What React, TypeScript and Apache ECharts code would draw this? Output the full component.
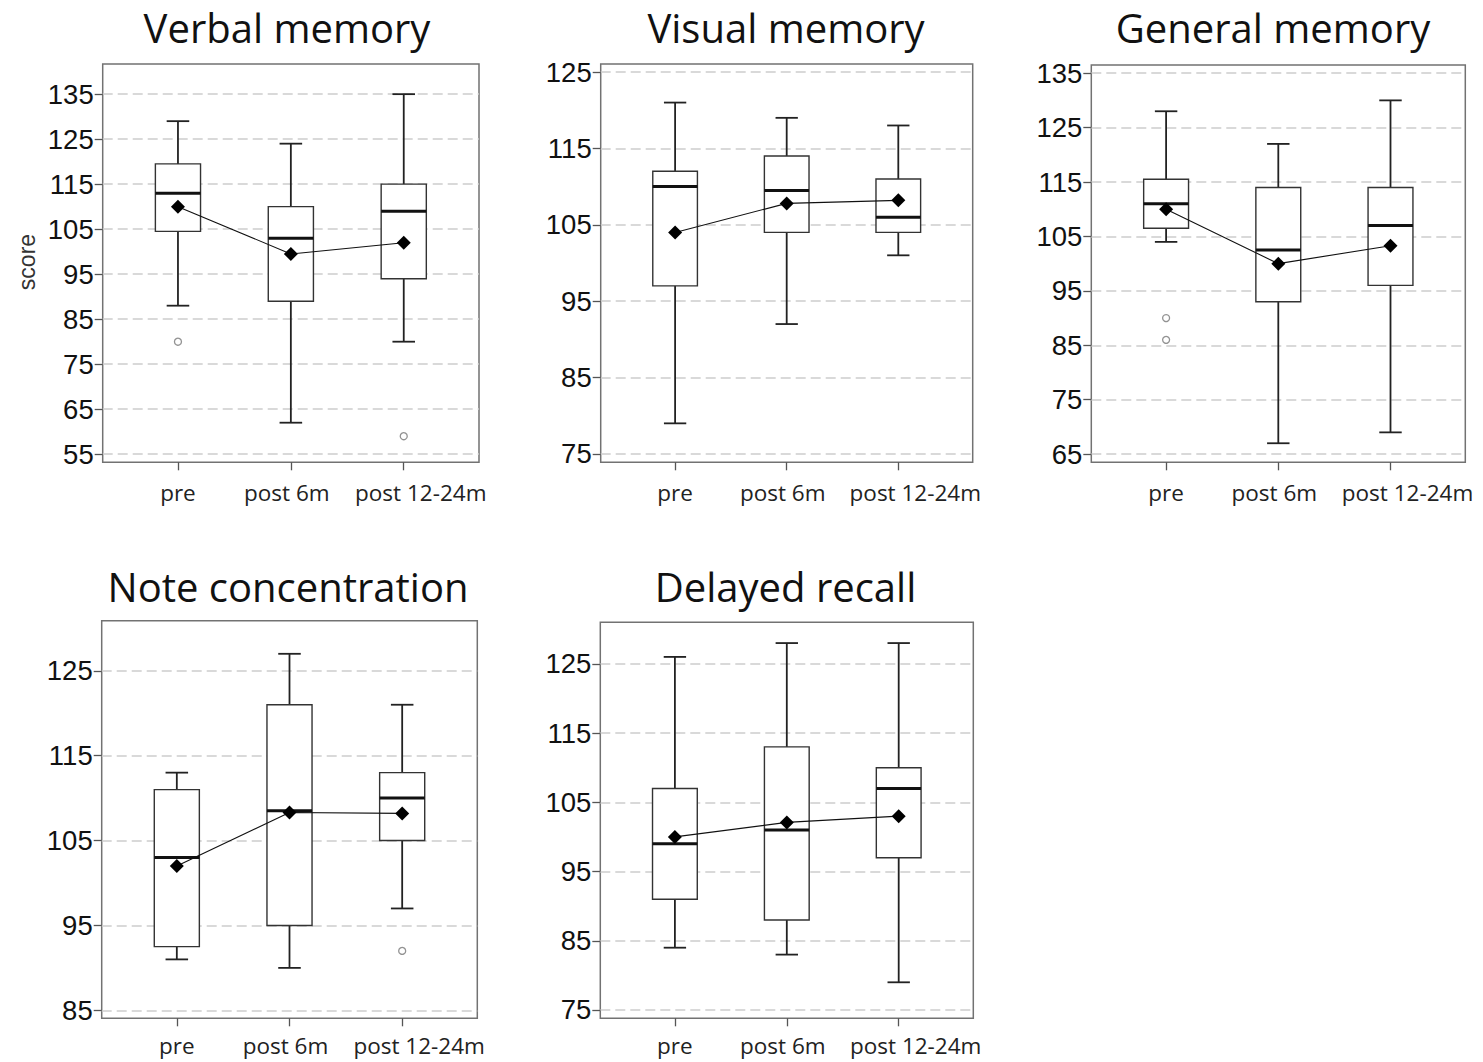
import React, { useEffect, useRef } from 'react';
import * as echarts from 'echarts';

const categories = ['pre', 'post 6m', 'post 12-24m'];
const categoryPositions = [0, 1, 2];

// each box: [min whisker, Q1, median, Q3, max whisker]
const verbalBoxes = [[88, 104.5, 113, 119.5, 129], [62, 89, 103, 110, 124], [80, 94, 109, 115, 135]];
const verbalMeans = [110, 99.5, 102];
const verbalOutliers = [[0, 80], [2, 59]];
const verbalTicks = [55, 65, 75, 85, 95, 105, 115, 125, 135];

const visualBoxes = [[79, 97, 110, 112, 121], [92, 104, 109.5, 114, 119], [101, 104, 106, 111, 118]];
const visualMeans = [104, 107.8, 108.2];
const visualOutliers: number[][] = [];
const visualTicks = [75, 85, 95, 105, 115, 125];

const generalBoxes = [[104, 106.5, 111, 115.5, 128], [67, 93, 102.5, 114, 122], [69, 96, 107, 114, 130]];
const generalMeans = [110, 100, 103.3];
const generalOutliers = [[0, 90], [0, 86]];
const generalTicks = [65, 75, 85, 95, 105, 115, 125, 135];

const noteBoxes = [[91, 92.5, 103, 111, 113], [90, 95, 108.5, 121, 127], [97, 105, 110, 113, 121]];
const noteMeans = [102, 108.3, 108.2];
const noteOutliers = [[2, 92]];
const noteTicks = [85, 95, 105, 115, 125];

const delayedBoxes = [[84, 91, 99, 107, 126], [83, 88, 101, 113, 128], [79, 97, 107, 110, 128]];
const delayedMeans = [100, 102.1, 103];
const delayedOutliers: number[][] = [];
const delayedTicks = [75, 85, 95, 105, 115, 125];

const panels = [
  { title: 'Verbal memory', boxes: verbalBoxes, means: verbalMeans, outliers: verbalOutliers, ticks: verbalTicks,
    yMin: 53.2, yMax: 141.7, grid: { left: 102.7, top: 64, width: 376.3, height: 398.3 }, titleX: 287, titleY: 27, xMargin: 19 },
  { title: 'Visual memory', boxes: visualBoxes, means: visualMeans, outliers: visualOutliers, ticks: visualTicks,
    yMin: 73.9, yMax: 126.05, grid: { left: 600.7, top: 64, width: 372, height: 398.3 }, titleX: 786, titleY: 27, xMargin: 19 },
  { title: 'General memory', boxes: generalBoxes, means: generalMeans, outliers: generalOutliers, ticks: generalTicks,
    yMin: 63.5, yMax: 136.5, grid: { left: 1091.3, top: 65, width: 374, height: 397.3 }, titleX: 1273, titleY: 27, xMargin: 19 },
  { title: 'Note concentration', boxes: noteBoxes, means: noteMeans, outliers: noteOutliers, ticks: noteTicks,
    yMin: 84.06, yMax: 130.9, grid: { left: 101.7, top: 620.7, width: 375.6, height: 397.6 }, titleX: 288, titleY: 586, xMargin: 16 },
  { title: 'Delayed recall', boxes: delayedBoxes, means: delayedMeans, outliers: delayedOutliers, ticks: delayedTicks,
    yMin: 73.8, yMax: 131.0, grid: { left: 600.3, top: 622.3, width: 373, height: 396 }, titleX: 785.5, titleY: 586, xMargin: 16 },
];

const BOX_HALF = 0.2;
const CAP_HALF = 0.1;
const X_FONT = { fontFamily: "'Open Sans', sans-serif", fontSize: 22.5, color: '#222' };

const renderBox = (params: any, api: any) => {
  const x = api.value(0);
  const lo = api.value(1), q1 = api.value(2), med = api.value(3), q3 = api.value(4), hi = api.value(5);
  const top = api.coord([x, hi]);
  const bot = api.coord([x, lo]);
  const q3L = api.coord([x - BOX_HALF, q3]);
  const q1R = api.coord([x + BOX_HALF, q1]);
  const medL = api.coord([x - BOX_HALF, med]);
  const medR = api.coord([x + BOX_HALF, med]);
  const capL = api.coord([x - CAP_HALF, hi]);
  const capR = api.coord([x + CAP_HALF, lo]);
  const whisker = { stroke: '#222', lineWidth: 1.8 };
  return {
    type: 'group',
    children: [
      { type: 'line', shape: { x1: top[0], y1: top[1], x2: top[0], y2: q3L[1] }, style: whisker },
      { type: 'line', shape: { x1: bot[0], y1: q1R[1], x2: bot[0], y2: bot[1] }, style: whisker },
      { type: 'line', shape: { x1: capL[0], y1: top[1], x2: capR[0], y2: top[1] }, style: whisker },
      { type: 'line', shape: { x1: capL[0], y1: bot[1], x2: capR[0], y2: bot[1] }, style: whisker },
      { type: 'rect', shape: { x: q3L[0], y: q3L[1], width: q1R[0] - q3L[0], height: q1R[1] - q3L[1] },
        style: { fill: '#fff', stroke: '#333', lineWidth: 1.4 } },
      { type: 'line', shape: { x1: medL[0], y1: medL[1], x2: medR[0], y2: medR[1] }, style: { stroke: '#111', lineWidth: 3 } },
    ],
  };
};

export default function App() {
  const ref = useRef<HTMLDivElement>(null);
  useEffect(() => {
    if (!ref.current) return;
    const chart = echarts.init(ref.current, null, { renderer: 'svg' });
    const grid: any[] = [];
    const xAxis: any[] = [];
    const yAxis: any[] = [];
    const series: any[] = [];
    const graphic: any[] = [];
    panels.forEach((p, i) => {
      grid.push({ ...p.grid, show: true, borderColor: '#727272', borderWidth: 1.5, backgroundColor: 'transparent' });
      xAxis.push({
        gridIndex: i, type: 'value', min: -2 / 3, max: 8 / 3,
        axisLine: { show: false, onZero: false },
        axisTick: { show: true, inside: false, length: 8, customValues: categoryPositions, lineStyle: { color: '#555', width: 1.3 } },
        axisLabel: {
          show: true, customValues: categoryPositions, margin: p.xMargin, ...X_FONT,
          formatter: (v: number) => {
            const k = Math.round(v);
            return categories[k] ? `{c${k}|${categories[k]}}` : '';
          },
          rich: {
            c0: { ...X_FONT, padding: [0, 0, 0, 0] },
            c1: { ...X_FONT, padding: [0, 8, 0, 0] },
            c2: { ...X_FONT, padding: [0, 0, 0, 34] },
          },
        },
        splitLine: { show: false },
      });
      yAxis.push({
        gridIndex: i, type: 'value', min: p.yMin, max: p.yMax,
        axisLine: { show: false, onZero: false },
        axisTick: { show: true, inside: false, length: 8, customValues: p.ticks, lineStyle: { color: '#555', width: 1.3 } },
        axisLabel: { show: true, customValues: p.ticks, margin: 9, fontFamily: "'Liberation Sans', Arial, sans-serif", fontSize: 27.5, color: '#111' },
        splitLine: { show: true, lineStyle: { color: '#cdcdcd', width: 1.5, type: [10, 5] } },
      });
      series.push({
        type: 'custom', xAxisIndex: i, yAxisIndex: i, renderItem: renderBox, z: 2,
        encode: { x: 0, y: [1, 2, 3, 4, 5] },
        data: p.boxes.map((b, k) => [categoryPositions[k], ...b]),
      });
      series.push({
        type: 'line', xAxisIndex: i, yAxisIndex: i, z: 4,
        data: p.means.map((m, k) => [categoryPositions[k], m]),
        symbol: 'diamond', symbolSize: 14, showSymbol: true,
        lineStyle: { color: '#111', width: 1.1 }, itemStyle: { color: '#000' },
      });
      if (p.outliers.length) {
        series.push({
          type: 'scatter', xAxisIndex: i, yAxisIndex: i, z: 4,
          data: p.outliers, symbol: 'circle', symbolSize: 7,
          itemStyle: { color: '#fff', borderColor: '#777', borderWidth: 1.3 },
        });
      }
      graphic.push({
        type: 'text', x: p.titleX, y: p.titleY,
        style: { text: p.title, textAlign: 'center', textVerticalAlign: 'middle', fontFamily: "'Open Sans', sans-serif", fontSize: 40, fill: '#111' },
      });
    });
    graphic.push({
      type: 'text', x: 27, y: 262, rotation: Math.PI / 2,
      style: { text: 'score', textAlign: 'center', textVerticalAlign: 'middle', fontFamily: "'Liberation Sans', Arial, sans-serif", fontSize: 23, fill: '#333' },
    });
    chart.setOption({
      animation: false,
      backgroundColor: '#fff',
      grid, xAxis, yAxis, series, graphic,
    });
    return () => chart.dispose();
  }, []);
  return <div ref={ref} style={{ position: 'absolute', left: 0, top: 0, width: 1483, height: 1062 }} />;
}
